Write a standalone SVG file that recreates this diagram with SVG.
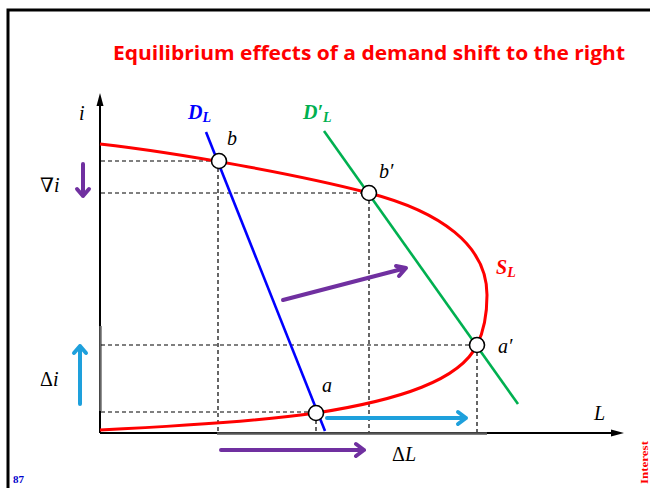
<svg xmlns="http://www.w3.org/2000/svg" width="650" height="488" viewBox="0 0 650 488">
<defs>
<style>
.dash{stroke:#000;stroke-width:1.2;stroke-dasharray:4,3;fill:none}
.m{font-family:"Liberation Serif","DejaVu Serif",serif;font-style:italic;font-size:20px;fill:#000}
.up{font-family:"Liberation Serif","DejaVu Serif",serif;font-style:normal;font-size:20px;fill:#000}
.it{font-style:italic}
.mb{font-family:"Liberation Serif","DejaVu Serif",serif;font-style:italic;font-weight:bold;font-size:20px}
.pt{fill:#fff;stroke:#000;stroke-width:1.6}
.pur{stroke:#7030A0;stroke-width:4;fill:none;stroke-linecap:round;stroke-linejoin:round}
.cy{stroke:#1EA0DC;stroke-width:4;fill:none;stroke-linecap:round;stroke-linejoin:round}
</style>
</defs>
<rect width="650" height="488" fill="#fff"/>
<g id="frame">
<path d="M8,488 V10 H650" fill="none" stroke="#000" stroke-width="3"/>
</g>
<text id="title" x="113" y="60" font-family="'Open Sans','Liberation Sans',sans-serif" font-weight="bold" font-size="20" fill="#FF0000" textLength="512" lengthAdjust="spacingAndGlyphs">Equilibrium effects of a demand shift to the right</text>
<g id="axes">
<line x1="100" y1="433" x2="100" y2="100" stroke="#000" stroke-width="2"/>
<path d="M100,93 L96.5,106 L103.5,106 Z" fill="#000"/>
<line x1="100" y1="433" x2="614" y2="433" stroke="#000" stroke-width="2"/>
<path d="M624,433 L611,429.5 L611,436.5 Z" fill="#000"/>
<line x1="100.5" y1="326" x2="100.5" y2="411" stroke="#666" stroke-width="2.4"/>
<line x1="217" y1="433.5" x2="487" y2="433.5" stroke="#555" stroke-width="2.4"/>
</g>
<g id="connectors">
<line class="dash" x1="101" y1="161" x2="212" y2="161"/>
<line class="dash" x1="101" y1="193" x2="362" y2="193"/>
<line class="dash" x1="101" y1="345" x2="470" y2="345"/>
<line class="dash" x1="101" y1="412" x2="309" y2="412"/>
<line class="dash" x1="218" y1="168" x2="218" y2="432"/>
<line class="dash" x1="369" y1="200" x2="369" y2="432"/>
<line class="dash" x1="477" y1="352" x2="477" y2="432"/>
<line class="dash" x1="316" y1="420" x2="316" y2="432"/>
</g>
<g id="supply">
<path d="M100,144 C180,153 300,175 369,193 C440,211.5 487,245 487,295 C487,320 482,335 477,345 C460,380 400,400 316,413 C260,421 180,426 100,430" fill="none" stroke="#FF0000" stroke-width="3"/>
</g>
<g id="demand">
<line x1="206" y1="132" x2="325" y2="431" stroke="#0000FF" stroke-width="2.6"/>
</g>
<g id="demand2">
<line x1="324" y1="131" x2="518" y2="404" stroke="#00B050" stroke-width="2.6"/>
</g>
<g id="points">
<circle id="pb" class="pt" cx="219" cy="161" r="7.5"/>
<circle id="pb2" class="pt" cx="369" cy="193" r="7.5"/>
<circle id="pa2" class="pt" cx="477" cy="345" r="7.5"/>
<circle id="pa" class="pt" cx="316" cy="413" r="7.5"/>
</g>
<g id="arrows">
<path class="pur" d="M83,164 V196 M77,189 L83,196 L89,189"/>
<path class="pur" d="M283,300 L406,268 M396,266 L406,268 L399,276"/>
<path class="pur" d="M221,450 H364 M356,444 L364,450 L356,456"/>
<path class="cy" d="M80,404 V346 M74,353 L80,346 L86,353"/>
<path class="cy" d="M327,418 H466 M458,412 L466,418 L458,424"/>
</g>
<g id="labels">
<text class="m" x="79" y="120">i</text>
<text class="mb" x="188" y="119" fill="#0000FF">D<tspan font-size="14" dy="3">L</tspan></text>
<text class="mb" x="303" y="119" fill="#00B050">D′<tspan font-size="14" dy="3">L</tspan></text>
<text class="mb" x="496" y="274" fill="#FF0000">S<tspan font-size="14" dy="3">L</tspan></text>
<text class="m" x="227" y="145">b</text>
<text class="m" x="379" y="178">b′</text>
<text class="m" x="498" y="353">a′</text>
<text class="m" x="322" y="392">a</text>
<text class="m" x="594" y="420">L</text>
<text class="up" x="392" y="461">Δ<tspan class="it">L</tspan></text>
<text class="up" x="40" y="192">∇<tspan class="it">i</tspan></text>
<text class="up" x="40" y="386">Δ<tspan class="it">i</tspan></text>
<text x="13" y="483" font-family="'Liberation Serif',serif" font-weight="bold" font-size="11" fill="#0000CC">87</text>
<text transform="translate(648,484) rotate(-90)" font-family="'Liberation Serif',serif" font-weight="bold" font-size="11" fill="#FF0000" textLength="43" lengthAdjust="spacingAndGlyphs">Interest</text>
</g>
</svg>
